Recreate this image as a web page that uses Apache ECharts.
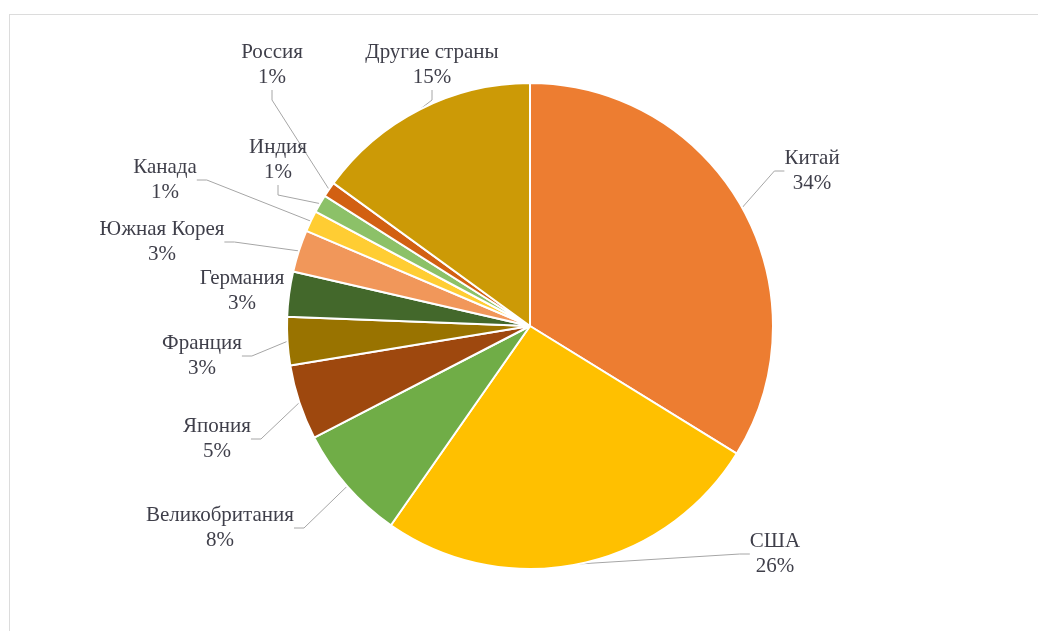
<!DOCTYPE html>
<html>
<head>
<meta charset="utf-8">
<script src="https://cdn.jsdelivr.net/npm/echarts@6/dist/echarts.min.js"></script>
<style>
  html, body { margin: 0; padding: 0; background: #fff; }
  #frame { position: absolute; left: 9px; top: 14px; width: 1029px; height: 617px;
           border-top: 1px solid #dcdcdc; border-left: 1px solid #dcdcdc; }
  #main { position: absolute; left: 0; top: 0; width: 1038px; height: 631px; }
</style>
</head>
<body>
<div id="frame"></div>
<div id="main"></div>
<script>
// доли стран, по часовой стрелке от 12 часов
var countries = ['Китай', 'США', 'Великобритания', 'Япония', 'Франция', 'Германия',
                 'Южная Корея', 'Канада', 'Индия', 'Россия', 'Другие страны'];
var shares = [33.8, 25.9, 7.7, 5.0, 3.2, 3.0, 2.8, 1.4, 1.2, 1.0, 15.0];
var colors = ['#ED7D31', '#FFC000', '#70AD47', '#9E480E', '#997300', '#43682B',
              '#F1975A', '#FFCD33', '#8CC168', '#D26012', '#CC9A06'];

// где стоят подписи (центр текста)
var labelPos = [
    [812, 171], [775, 554], [220, 528], [217, 439], [202, 356], [242, 291],
    [162, 242], [165, 180], [278, 160], [272, 65], [432, 65]
];

var chart = echarts.init(document.getElementById('main'));

var data = countries.map(function (name, i) {
    var item = { name: name, value: shares[i], itemStyle: { color: colors[i] } };
    if (name === 'Германия') item.labelLine = { show: false };
    return item;
});

var option = {
    animation: false,
    series: [{
        type: 'pie',
        center: [530, 326],
        radius: 243,
        startAngle: 90,
        clockwise: true,
        data: data,
        itemStyle: { borderColor: '#fff', borderWidth: 2 },
        label: {
            show: true,
            formatter: function (p) { return p.name + '\n' + Math.round(p.percent) + '%'; },
            fontFamily: '"Liberation Serif", "DejaVu Serif", serif',
            fontSize: 21,
            lineHeight: 25,
            color: '#3f3f4a',
            align: 'center'
        },
        labelLine: {
            show: true,
            length: 15,
            length2: 10,
            lineStyle: { color: '#a6a6a6', width: 1 }
        },
        labelLayout: function (params) {
            var pos = labelPos[params.dataIndex];
            return { x: pos[0], y: pos[1], align: 'center', verticalAlign: 'middle' };
        }
    }]
};
chart.setOption(option);
</script>
</body>
</html>
